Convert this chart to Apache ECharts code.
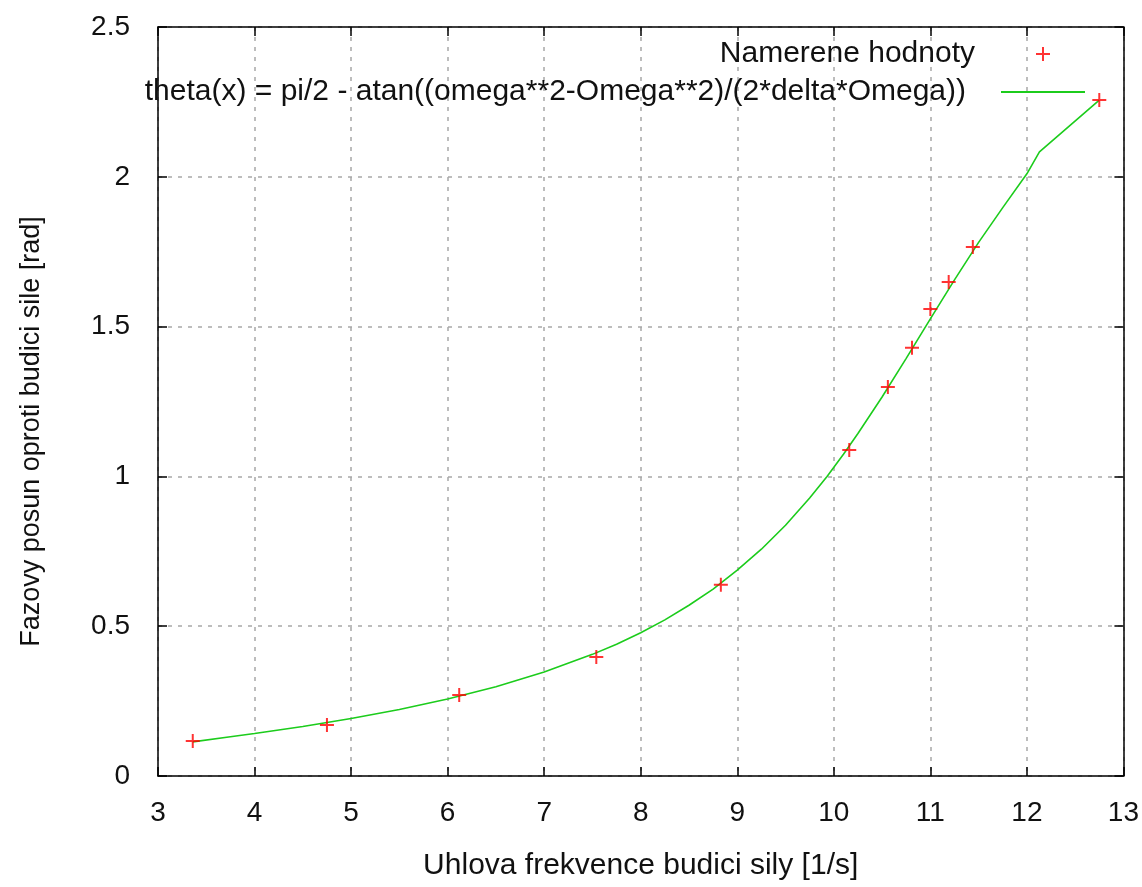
<!DOCTYPE html>
<html>
<head>
<meta charset="utf-8">
<script src="https://cdn.jsdelivr.net/npm/echarts@6/dist/echarts.min.js"></script>
<style>
html,body{margin:0;padding:0;background:#fff;}
#chart{width:1142px;height:887px;}
</style>
</head>
<body>
<div id="chart"></div>
<script>
// Measured points
const measX = [3.36, 4.75, 6.12, 7.54, 8.83, 10.16, 10.56, 10.81, 11.00, 11.19, 11.44, 12.75];
const measY = [0.117, 0.170, 0.270, 0.397, 0.638, 1.088, 1.298, 1.429, 1.559, 1.649, 1.766, 2.256];
// Fitted curve
const curveX = [3.36, 3.75, 4.0, 4.5, 5.0, 5.5, 6.0, 6.5, 7.0, 7.5, 7.75, 8.0, 8.25, 8.5, 8.75, 9.0, 9.25, 9.5, 9.75, 9.93, 10.1, 10.25, 10.5, 10.75, 11.0, 11.25, 11.5, 11.75, 12.0, 12.13, 12.75];
const curveY = [0.114, 0.131, 0.142, 0.165, 0.192, 0.222, 0.257, 0.298, 0.347, 0.406, 0.440, 0.478, 0.521, 0.570, 0.624, 0.687, 0.757, 0.837, 0.928, 1.0, 1.074, 1.143, 1.265, 1.394, 1.526, 1.656, 1.781, 1.897, 2.01, 2.083, 2.256];
const xTicks = {min: 3, max: 13, step: 1};
const yTicks = {min: 0, max: 2.5, step: 0.5};
const nameMeas = 'Namerene hodnoty';
const nameFit = 'theta(x) = pi/2 - atan((omega**2-Omega**2)/(2*delta*Omega))';
const xTitle = 'Uhlova frekvence budici sily [1/s]';
const yTitle = 'Fazovy posun oproti budici sile [rad]';

const FONT = "'Liberation Sans', Arial, sans-serif";
const TXT = '#111111';
const FS = 28;
const gridLine = {show: true, lineStyle: {color: '#a8a8a8', width: 1.5, type: [4, 6]}};
const plusPath = 'path://M6,0h2v14h-2z M0,6h14v2h-14z';

const chart = echarts.init(document.getElementById('chart'));
chart.setOption({
  animation: false,
  backgroundColor: '#ffffff',
  textStyle: {fontFamily: FONT, color: TXT},
  grid: {left: 158, right: 18, top: 27, bottom: 111, containLabel: false},
  legend: [
    {
      data: [nameMeas], right: 92, top: 39, padding: 0, align: 'right',
      itemWidth: 14, itemHeight: 14,
      textStyle: {fontSize: 30, fontFamily: FONT, color: TXT, padding: [0, 56, 0, 0]}
    },
    {
      data: [{name: nameFit, icon: 'path://M0,0h84v2h-84z'}], right: 57, top: 77, padding: 0, align: 'right',
      itemWidth: 84, itemHeight: 2,
      textStyle: {fontSize: 30, fontFamily: FONT, color: TXT, padding: [0, 30, 0, 0]}
    }
  ],
  xAxis: [
    {
      type: 'value', min: xTicks.min, max: xTicks.max, interval: xTicks.step,
      name: xTitle, nameLocation: 'middle', nameGap: 75,
      nameTextStyle: {fontSize: 30, fontFamily: FONT, color: TXT},
      axisLine: {show: true, onZero: false, lineStyle: {color: '#000', width: 1.5}},
      axisTick: {show: true, inside: true, length: 9, lineStyle: {color: '#000', width: 1.5}},
      axisLabel: {fontSize: FS, fontFamily: FONT, color: TXT, margin: 23},
      splitLine: gridLine
    },
    {
      type: 'value', position: 'top', min: xTicks.min, max: xTicks.max, interval: xTicks.step,
      axisLine: {show: true, onZero: false, lineStyle: {color: '#000', width: 1.5}},
      axisTick: {show: true, inside: true, length: 9, lineStyle: {color: '#000', width: 1.5}},
      axisLabel: {show: false}, splitLine: {show: false}
    }
  ],
  yAxis: [
    {
      type: 'value', min: yTicks.min, max: yTicks.max, interval: yTicks.step,
      name: yTitle, nameLocation: 'middle', nameGap: 113,
      nameTextStyle: {fontSize: 27, fontFamily: FONT, color: TXT, padding: [0, 60, 0, 0]},
      axisLine: {show: true, onZero: false, lineStyle: {color: '#000', width: 1.5}},
      axisTick: {show: true, inside: true, length: 9, lineStyle: {color: '#000', width: 1.5}},
      axisLabel: {fontSize: FS, fontFamily: FONT, color: TXT, margin: 28},
      splitLine: gridLine
    },
    {
      type: 'value', position: 'right', min: yTicks.min, max: yTicks.max, interval: yTicks.step,
      axisLine: {show: true, onZero: false, lineStyle: {color: '#000', width: 1.5}},
      axisTick: {show: true, inside: true, length: 9, lineStyle: {color: '#000', width: 1.5}},
      axisLabel: {show: false}, splitLine: {show: false}
    }
  ],
  series: [
    {
      name: nameFit, type: 'line', xAxisIndex: 0, yAxisIndex: 0,
      data: curveX.map((x, i) => [x, curveY[i]]),
      symbol: 'none', smooth: false,
      lineStyle: {color: '#1ccc1c', width: 1.6},
      itemStyle: {color: '#1ccc1c'},
      z: 2
    },
    {
      name: nameMeas, type: 'scatter', xAxisIndex: 0, yAxisIndex: 0,
      data: measX.map((x, i) => [x, measY[i]]),
      symbol: plusPath, symbolSize: 14,
      itemStyle: {color: '#ff0000'},
      z: 3
    }
  ]
});
</script>
</body>
</html>
